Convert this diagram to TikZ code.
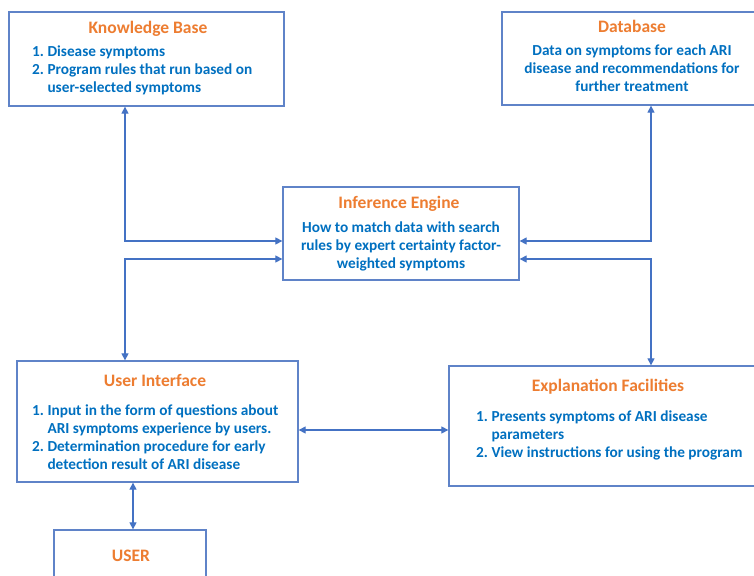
\documentclass[tikz,border=0pt]{standalone}
\usepackage{fontspec}
\setmainfont{Carlito}
\usetikzlibrary{arrows.meta}
\definecolor{boxc}{HTML}{5F83C8}
\definecolor{arrc}{HTML}{4472C4}
\definecolor{ttlc}{HTML}{ED7D31}
\definecolor{bdyc}{HTML}{0070C0}
\begin{document}
\begin{tikzpicture}[x=1pt,y=-1pt,
  box/.style={draw=boxc, line width=1.3pt, rectangle, inner sep=0pt},
  ttl/.style={font=\fontsize{17.5}{20}\selectfont\bfseries, text=ttlc, anchor=base, inner sep=0pt},
  bdy/.style={font=\fontsize{15.3}{18}\selectfont\bfseries, text=bdyc, inner sep=0pt},
  conn/.style={draw=arrc, line width=1.2pt, {Triangle[length=7pt,width=7pt]}-{Triangle[length=7pt,width=7pt]}}
]
\useasboundingbox (0,0) rectangle (754,575);
\clip (0,0) rectangle (754,575);
\fill[white] (0,0) rectangle (754,575);

% boxes
\node[box, minimum width=275pt, minimum height=94pt] (kb) at (146.5,59) {};
\node[box, minimum width=260pt, minimum height=93pt] (db) at (632,58.5) {};
\node[box, minimum width=236pt, minimum height=93pt] (ie) at (401,233.5) {};
\node[box, minimum width=281pt, minimum height=121pt] (ui) at (157.5,421.5) {};
\node[box, minimum width=318pt, minimum height=120pt] (ef) at (608,426) {};
\node[box, minimum width=152pt, minimum height=70pt] (user) at (130,565) {};

% texts
\node[ttl] (kbt) at (148,34) {Knowledge Base};
\node[bdy, anchor=base west] (kbb) at (32,57) {\begin{tabular}[t]{@{}l@{\ }l@{}}1.& Disease symptoms\\ 2.& Program rules that run based on\\ & user-selected symptoms\end{tabular}};

\node[ttl] (dbt) at (632,33) {Database};
\node[bdy, anchor=base] (dbb) at (632,56) {\begin{tabular}[t]{@{}c@{}}Data on symptoms for each ARI\\ disease and recommendations for\\ further treatment\end{tabular}};

\node[ttl] (iet) at (399,208) {Inference Engine};
\node[bdy, anchor=base] (ieb) at (401,232) {\begin{tabular}[t]{@{}c@{}}How to match data with search\\ rules by expert certainty factor-\\ weighted symptoms\end{tabular}};

\node[ttl] (uit) at (155,386) {User Interface};
\node[bdy, anchor=base west] (uib) at (32,415) {\begin{tabular}[t]{@{}l@{\ }l@{}}1.& Input in the form of questions about\\ & ARI symptoms experience by users.\\ 2.& Determination procedure for early\\ & detection result of ARI disease\end{tabular}};

\node[ttl] (eft) at (608,391) {Explanation Facilities};
\node[bdy, anchor=base west] (efb) at (476,421) {\begin{tabular}[t]{@{}l@{\ }l@{}}1.& Presents symptoms of ARI disease\\ & parameters\\ 2.& View instructions for using the program\end{tabular}};

\node[ttl] (usert) at (131,561) {USER};

% connectors
\coordinate (L) at (125,0);
\coordinate (R) at (651,0);
\coordinate (U) at (133,0);
\draw[conn] (L |- kb.south) |- ([yshift=-7.5pt]ie.west);
\draw[conn] (R |- db.south) |- ([yshift=-7.5pt]ie.east);
\draw[conn] ([yshift=-25.5pt]ie.west) -| (L |- ui.north);
\draw[conn] ([yshift=-25.5pt]ie.east) -| (R |- ef.north);
\draw[conn] ([yshift=-8.5pt]ui.east) -- ([yshift=-8.5pt]ui.east -| ef.west);
\draw[conn] (U |- ui.south) -- (U |- user.north);
\end{tikzpicture}
\end{document}
